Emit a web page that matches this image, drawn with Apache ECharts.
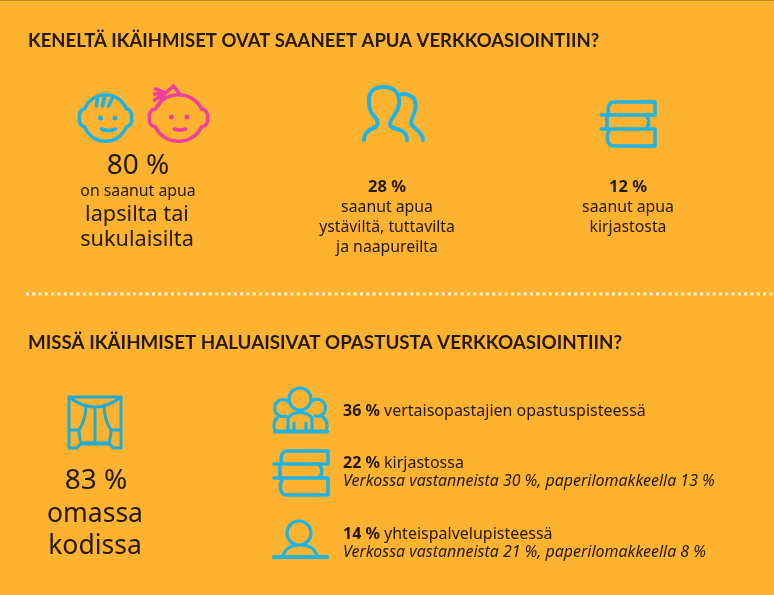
<!DOCTYPE html>
<html>
<head>
<meta charset="utf-8">
<style>
  html, body { margin: 0; padding: 0; background: #fdb32f; }
  #chart { width: 774px; height: 595px; }
</style>
</head>
<body>
<div id="chart"></div>
<script src="https://cdn.jsdelivr.net/npm/echarts@6/dist/echarts.min.js"></script>
<script>
// --- values ---
const titles = ['KENELTÄ IKÄIHMISET OVAT SAANEET APUA VERKKOASIOINTIIN?', 'MISSÄ IKÄIHMISET HALUAISIVAT OPASTUSTA VERKKOASIOINTIIN?']
const helpValues = [80, 28, 12]
const helpLines = [
  ['on saanut apua', 'lapsilta tai', 'sukulaisilta'],
  ['saanut apua', 'ystäviltä, tuttavilta', 'ja naapureilta'],
  ['saanut apua', 'kirjastosta']
]
const homeValue = 83
const homeLines = ['omassa', 'kodissa']
const placeValues = [36, 22, 14]
const placeNames = ['vertaisopastajien opastuspisteessä', 'kirjastossa', 'yhteispalvelupisteessä']
const onlineValues = [null, 30, 21]
const paperValues = [null, 13, 8]

const BLUE = '#1fb3e4'
const TEAL = '#22aacf'
const PINK = '#ee3f9c'
const INK = '#241806'
const BODY_FONT = '"Noto Sans", sans-serif'
const HEAD_FONT = 'Lato, sans-serif'

const pct = (v) => `${v} %`

// --- icon outlines, local coordinates ---
const facePath = 'M-21,-9 C-12,-28 12,-28 21,-9 C25,-9 27,-3 26,0 C27,4 25,8 21,9 C12,28 -12,28 -21,9 C-25,8 -27,4 -26,0 C-27,-3 -25,-9 -21,-9 Z'
const girlPath = 'M-23,-9 C-14,-28 14,-28 23,-9 C28,-9 30,-3 29,0 C30,4 28,8 23,9 C14,28 -14,28 -23,9 C-28,8 -30,4 -29,0 C-30,-3 -28,-9 -23,-9 Z'
const booksPath = 'M53,0 H12 C5,0 5,12 8,13 M-1,13 H53 M53,0 V13 M5,13 V27 M43,13 C48,16 48,24 43,27 M-1,27 H53 M8,27 C4,33 4,44 12,44 H53 V27'
const icons = [
  { x: 105.5, y: 118, color: BLUE, width: 3.6, path: facePath + ' M-8,-19 L-9,-12 M-1,-21 L-3,-12 M7,-20 L3,-12 M-4,11 Q3,14 10,11', dots: [[-5, 0], [9.5, 0]] },
  { x: 178.5, y: 118, color: PINK, width: 3.6, path: girlPath + ' M-13,-25 L-23,-29 M-13,-25 L-24,-24 M-13,-25 L-24,-18 M-13,-25 L-20,-13 M-13,-25 L-5,-32 L2,-23 M-4,11 Q1,13 7,11', dots: [[-7, -1], [8.5, -1]] },
  { x: 340, y: 70, color: BLUE, width: 4, path: 'M24,70 C24,62 30,59 36,57 C38,55 38,50 35,47 C31,43 29,38 29,33 C28,22 33,17 44,17 C55,17 60,24 59,34 C58,44 50,48 50,54 C50,58 55,58 60,60 C65,62 67,65 67,70 M58,26 C62,22 72,24 75,31 C78,40 72,46 71,52 C70,58 83,60 83,70' },
  { x: 602, y: 102, color: BLUE, width: 3.6, path: booksPath },
  { x: 69, y: 397, color: TEAL, width: 3, path: 'M0,0 H52 V51 H44 L40,46 H12 L8,51 H0 Z M0,0 Q26,20 52,0 M26,10 V46 M17,8 C17,18 14,27 10,33 C10,38 11,42 12,46 M35,8 C35,18 38,27 42,33 C42,38 41,42 40,46 M0,33 H10 M42,33 H52 M12,47 H40' },
  { x: 273, y: 387, color: BLUE, width: 3.2, path: 'M38,12 A11,11 0 1 1 16,12 A11,11 0 1 1 38,12 M17,15 M15,44 V33 C15,28 21,25.5 27,25.5 C33,25.5 39,28 39,33 V44 M21,36 V44 M33,36 V44 M17,16 A8.5,8.5 0 1 0 13,29 M37,16 A8.5,8.5 0 1 1 42,29 M2,44 C0,38 1,33 5,30 M53,44 C55,38 54,33 50,30', base: 'M2,44.5 H54' },
  { x: 275, y: 451, color: BLUE, width: 3.6, path: booksPath },
  { x: 273, y: 520, color: BLUE, width: 3.2, path: 'M38,13 A12,12 0 1 1 14,13 A12,12 0 1 1 38,13 M10,36 C12,28 19,25 27,25 C35,25 42,28 44,36', base: 'M1,37 H54' }
]

// --- text layout ---
const texts = []
const addText = (x, y, text, fontSize, extra = {}) => {
  texts.push({
    type: 'text',
    x,
    y,
    style: {
      text,
      fontSize,
      fontFamily: BODY_FONT,
      fill: INK,
      align: 'center',
      verticalAlign: 'middle',
      ...extra
    }
  })
}

addText(28, 41.5, titles[0], 18.5, { fontFamily: HEAD_FONT, fontWeight: 'bold', align: 'left' })
addText(28, 342.5, titles[1], 18.75, { fontFamily: HEAD_FONT, fontWeight: 'bold', align: 'left' })

addText(138, 166, pct(helpValues[0]), 28)
addText(138, 191, helpLines[0][0], 15.8)
addText(137, 215, helpLines[0][1], 21.7)
addText(137, 240, helpLines[0][2], 21.7)

addText(387, 187, pct(helpValues[1]), 16.5, { fontWeight: 'bold' })
helpLines[1].forEach((line, i) => addText(387, 207 + i * 20, line, 15.8))
addText(628, 187, pct(helpValues[2]), 16.5, { fontWeight: 'bold' })
helpLines[2].forEach((line, i) => addText(628, 207 + i * 20, line, 15.8))

addText(96, 481, pct(homeValue), 28)
homeLines.forEach((line, i) => addText(95, 514 + i * 32, line, 26.5))

placeValues.forEach((v, i) => {
  const y = [411, 463, 534][i]
  texts.push({
    type: 'text',
    x: 343,
    y,
    style: {
      text: `{b|${pct(v)}} ${placeNames[i]}`,
      verticalAlign: 'middle',
      rich: {
        b: { fontFamily: BODY_FONT, fontSize: 16, fontWeight: 'bold', fill: INK }
      },
      fontFamily: BODY_FONT,
      fontSize: 16,
      fill: INK
    }
  })
  if (onlineValues[i] != null) {
    addText(343, y + 18.5, `Verkossa vastanneista ${pct(onlineValues[i])}, paperilomakkeella ${pct(paperValues[i])}`, 15.95, {
      align: 'left',
      fontStyle: 'italic'
    })
  }
})

const chart = echarts.init(document.getElementById('chart'))

// icons are drawn through a custom series so they can use svg path strings
const renderIcon = (params) => {
  const icon = icons[params.dataIndex]
  const children = [{
    type: 'path',
    shape: { pathData: icon.path },
    style: { fill: 'none', stroke: icon.color, lineWidth: icon.width, lineCap: 'round', lineJoin: 'round' }
  }]
  if (icon.base) {
    children.push({
      type: 'path',
      shape: { pathData: icon.base },
      style: { fill: 'none', stroke: icon.color, lineWidth: 4.2, lineCap: 'round' }
    })
  }
  ;(icon.dots || []).forEach(([cx, cy]) => {
    children.push({ type: 'circle', shape: { cx, cy, r: 2.5 }, style: { fill: icon.color } })
  })
  return { type: 'group', x: icon.x, y: icon.y, children }
}

chart.setOption({
  backgroundColor: '#fdb32f',
  animation: false,
  graphic: {
    elements: [
      { type: 'rect', shape: { x: 0, y: 0, width: 774, height: 1 }, style: { fill: '#b98a2a' } },
      {
        type: 'line',
        shape: { x1: 26, y1: 294, x2: 774, y2: 294 },
        style: { stroke: '#fff3d6', lineWidth: 3, lineDash: [3, 3.3] }
      },
      ...texts
    ]
  },
  series: [{
    type: 'custom',
    coordinateSystem: 'none',
    silent: true,
    renderItem: renderIcon,
    data: icons.map((_, i) => i)
  }]
})

window.addEventListener('resize', () => chart.resize())
</script>
</body>
</html>
